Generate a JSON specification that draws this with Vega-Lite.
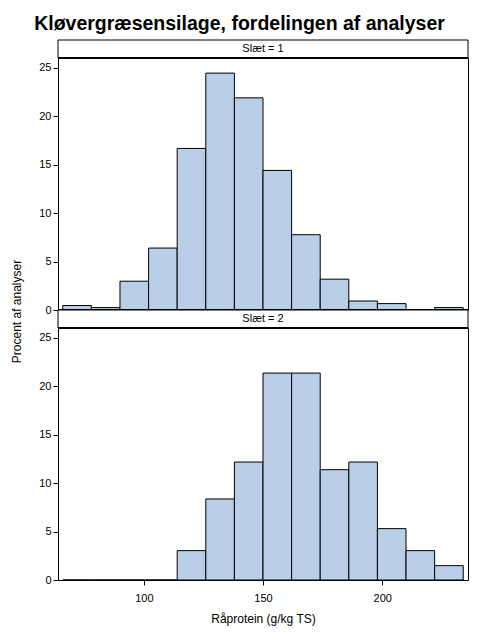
{
  "$schema": "https://vega.github.io/schema/vega-lite/v6.json",
  "datasets": {
    "hist": [
      {"slaet": 1, "lo": 66, "hi": 78, "pct": 0.46},
      {"slaet": 1, "lo": 78, "hi": 90, "pct": 0.25},
      {"slaet": 1, "lo": 90, "hi": 102, "pct": 2.97},
      {"slaet": 1, "lo": 102, "hi": 114, "pct": 6.39},
      {"slaet": 1, "lo": 114, "hi": 126, "pct": 16.67},
      {"slaet": 1, "lo": 126, "hi": 138, "pct": 24.44},
      {"slaet": 1, "lo": 138, "hi": 150, "pct": 21.89},
      {"slaet": 1, "lo": 150, "hi": 162, "pct": 14.4},
      {"slaet": 1, "lo": 162, "hi": 174, "pct": 7.77},
      {"slaet": 1, "lo": 174, "hi": 186, "pct": 3.18},
      {"slaet": 1, "lo": 186, "hi": 198, "pct": 0.93},
      {"slaet": 1, "lo": 198, "hi": 210, "pct": 0.66},
      {"slaet": 1, "lo": 210, "hi": 222, "pct": 0},
      {"slaet": 1, "lo": 222, "hi": 234, "pct": 0.25},
      {"slaet": 2, "lo": 66, "hi": 78, "pct": 0},
      {"slaet": 2, "lo": 78, "hi": 90, "pct": 0},
      {"slaet": 2, "lo": 90, "hi": 102, "pct": 0},
      {"slaet": 2, "lo": 102, "hi": 114, "pct": 0},
      {"slaet": 2, "lo": 114, "hi": 126, "pct": 3.03},
      {"slaet": 2, "lo": 126, "hi": 138, "pct": 8.36},
      {"slaet": 2, "lo": 138, "hi": 150, "pct": 12.17},
      {"slaet": 2, "lo": 150, "hi": 162, "pct": 21.35},
      {"slaet": 2, "lo": 162, "hi": 174, "pct": 21.35},
      {"slaet": 2, "lo": 174, "hi": 186, "pct": 11.38},
      {"slaet": 2, "lo": 186, "hi": 198, "pct": 12.17},
      {"slaet": 2, "lo": 198, "hi": 210, "pct": 5.3},
      {"slaet": 2, "lo": 210, "hi": 222, "pct": 3.03},
      {"slaet": 2, "lo": 222, "hi": 234, "pct": 1.48}
    ],
    "headers": [
      {"slaet": 1, "label": "Slæt = 1"},
      {"slaet": 2, "label": "Slæt = 2"}
    ]
  },
  "title": {
    "text": "Kløvergræsensilage, fordelingen af analyser",
    "fontSize": 19.5,
    "fontWeight": "bold",
    "font": "Liberation Sans",
    "color": "black",
    "anchor": "middle",
    "frame": "bounds",
    "offset": 5
  },
  "padding": {"left": 9, "top": 14, "right": 11, "bottom": 10},
  "spacing": 0,
  "bounds": "flush",
  "background": "white",
  "config": {
    "font": "Liberation Sans",
    "view": {"stroke": "black", "strokeWidth": 1},
    "axis": {
      "domain": false,
      "grid": false,
      "tickColor": "black",
      "tickSize": 5,
      "labelColor": "black",
      "labelFontSize": 11,
      "labelPadding": 2,
      "titleColor": "black",
      "titleFontSize": 12,
      "titleFontWeight": "normal"
    }
  },
  "vconcat": [
    {
      "data": {"name": "headers"},
      "transform": [{"filter": "datum.slaet == 1"}],
      "width": 410,
      "height": 18,
      "layer": [
        {"mark": {"type": "rect", "fill": "white", "stroke": "black", "strokeWidth": 1}},
        {"mark": {"type": "text", "fontSize": 11, "color": "black"}, "encoding": {"text": {"field": "label"}}}
      ]
    },
    {
      "data": {"name": "hist"},
      "transform": [{"filter": "datum.slaet == 1"}],
      "width": 410,
      "height": 252,
      "layer": [
        {
          "mark": {"type": "bar", "fill": "#b9cfe7", "stroke": "black", "strokeWidth": 1},
          "encoding": {
            "x": {"field": "lo", "type": "quantitative", "scale": {"domain": [64, 236], "nice": false, "zero": false}, "axis": null},
            "x2": {"field": "hi"},
            "y": {"field": "pct", "type": "quantitative", "scale": {"domain": [0, 26], "nice": false},
                  "axis": {"values": [0, 5, 10, 15, 20, 25], "title": "Procent af analyser", "titleY": 253, "titleX": -35}},
            "y2": {"datum": 0}
          }
        },
        {
          "mark": {"type": "rule", "color": "black", "strokeWidth": 2},
          "encoding": {"y": {"datum": 26}}
        },
        {
          "mark": {"type": "rule", "color": "black", "strokeWidth": 2},
          "encoding": {"y": {"datum": 0}}
        }
      ]
    },
    {
      "data": {"name": "headers"},
      "transform": [{"filter": "datum.slaet == 2"}],
      "width": 410,
      "height": 18,
      "layer": [
        {"mark": {"type": "rect", "fill": "white", "stroke": "black", "strokeWidth": 1}},
        {"mark": {"type": "text", "fontSize": 11, "color": "black"}, "encoding": {"text": {"field": "label"}}}
      ]
    },
    {
      "data": {"name": "hist"},
      "transform": [{"filter": "datum.slaet == 2"}],
      "width": 410,
      "height": 252,
      "layer": [
        {
          "mark": {"type": "bar", "fill": "#b9cfe7", "stroke": "black", "strokeWidth": 1},
          "encoding": {
            "x": {"field": "lo", "type": "quantitative", "scale": {"domain": [64, 236], "nice": false, "zero": false},
                  "axis": {"values": [100, 150, 200], "title": "Råprotein (g/kg TS)", "labelPadding": 7, "titlePadding": 10}},
            "x2": {"field": "hi"},
            "y": {"field": "pct", "type": "quantitative", "scale": {"domain": [0, 26], "nice": false},
                  "axis": {"values": [0, 5, 10, 15, 20, 25], "title": null}},
            "y2": {"datum": 0}
          }
        },
        {
          "mark": {"type": "rule", "color": "black", "strokeWidth": 2},
          "encoding": {"y": {"datum": 26}}
        }
      ]
    }
  ]
}
